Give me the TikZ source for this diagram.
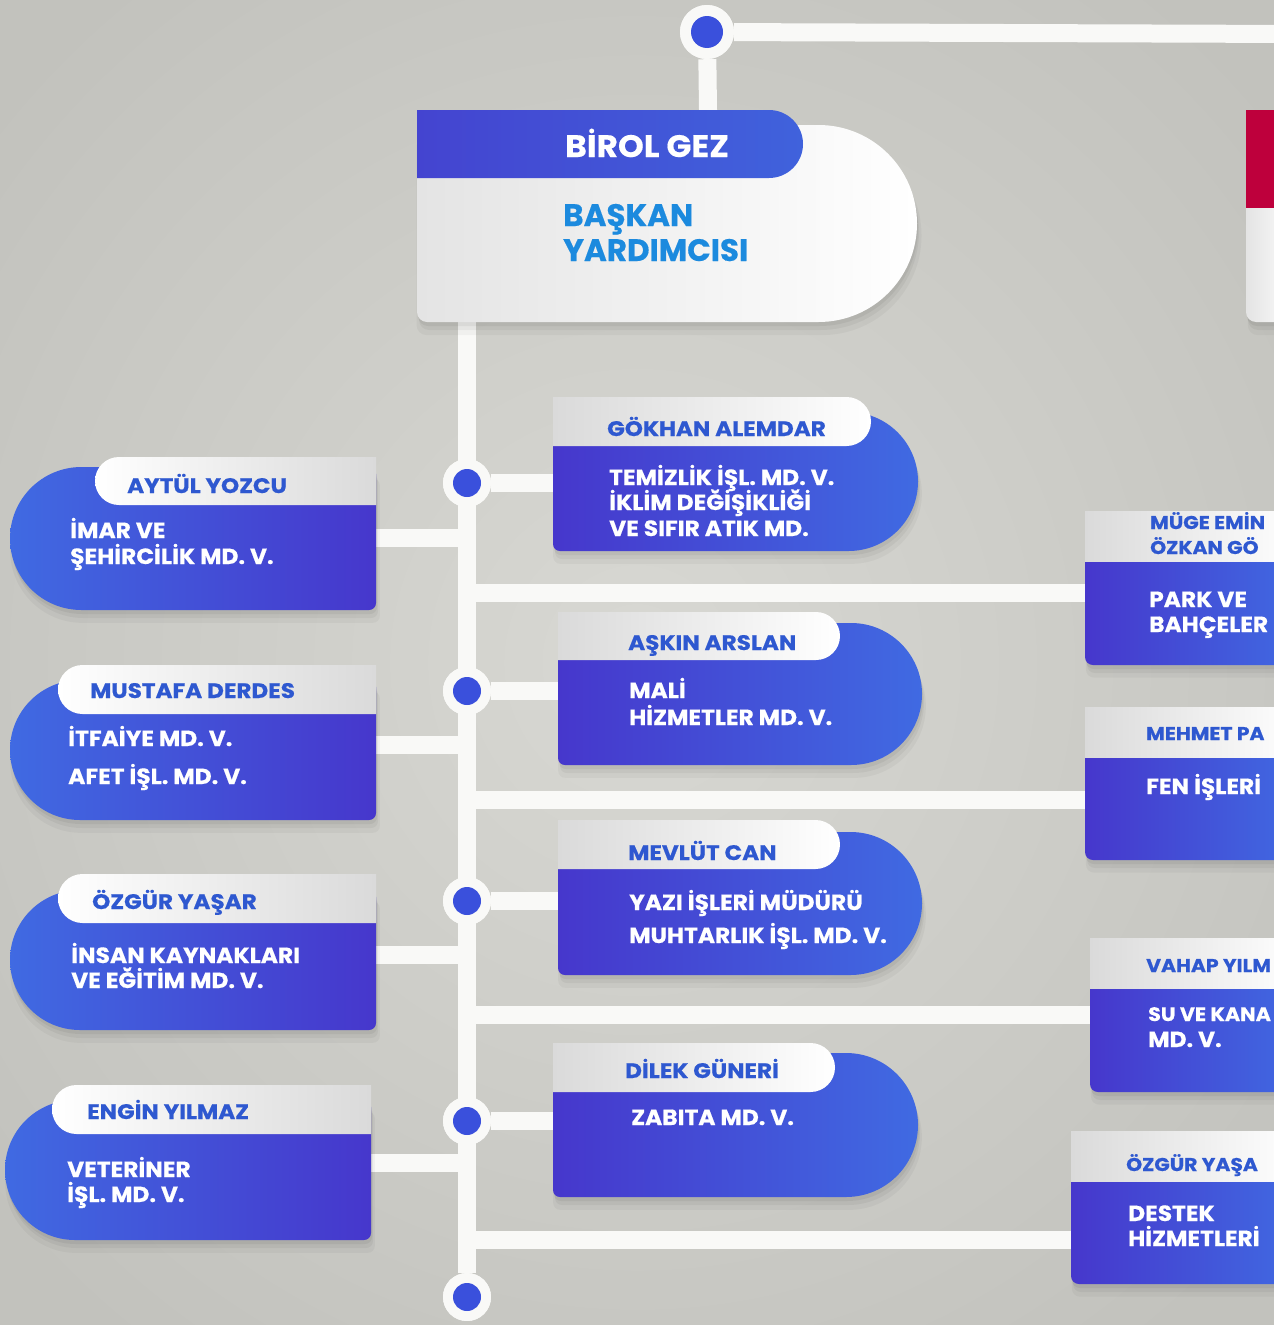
\documentclass[tikz,border=0pt]{standalone}
\usepackage{fontspec}
\setmainfont{Poppins}
\newfontfamily\popname{Poppins}[FakeStretch=1.10, FakeBold=0.6]
\newfontfamily\popbody{Poppins}[FakeStretch=1.06, FakeBold=0.6]
\newfontfamily\popmain{Poppins}[FakeStretch=1.06, FakeBold=0.4]
\newfontfamily\poprole{Poppins}[FakeBold=0.4]
\usetikzlibrary{shadows}
\definecolor{bgin}{RGB}{216,216,211}
\definecolor{bgout}{RGB}{194,194,189}
\definecolor{wire}{RGB}{249,249,247}
\definecolor{blight}{RGB}{64,106,226}
\definecolor{bviolet}{RGB}{70,55,204}
\definecolor{hblue}{RGB}{46,88,208}
\definecolor{sky}{RGB}{28,138,222}
\definecolor{hgray}{RGB}{218,218,218}
\definecolor{mgray}{RGB}{228,228,228}
\definecolor{crimson}{RGB}{190,0,60}
\definecolor{dotblue}{RGB}{58,80,220}
\definecolor{mheadA}{RGB}{68,68,208}
\definecolor{mheadB}{RGB}{64,98,220}
\tikzset{
  wireline/.style={draw=wire, line width=18pt},
  cardshadow/.style={
    general shadow={fill=black, opacity=.035, shadow xshift=2pt, shadow yshift=-12pt, shadow scale=1.01},
    general shadow={fill=black, opacity=.045, shadow xshift=2pt, shadow yshift=-8pt},
    general shadow={fill=black, opacity=.05, shadow xshift=1pt, shadow yshift=-4pt}},
  bodyL/.style={cardshadow, left color=blight, right color=bviolet},
  bodyR/.style={cardshadow, left color=bviolet, right color=blight},
  farbody/.style={cardshadow, left color=bviolet, right color=blight},
  headL/.style={left color=white, right color=hgray},
  headR/.style={left color=hgray, right color=white},
  mainbody/.style={cardshadow, left color=mgray, right color=white},
  nametext/.style={anchor=base west, inner sep=0pt, text=hblue, font=\popname\bfseries\fontsize{21}{21}\selectfont},
  farname/.style={nametext, font=\popname\bfseries\fontsize{18.5}{18.5}\selectfont},
  bodytext/.style={anchor=base west, inner sep=0pt, text=white, font=\popbody\bfseries\fontsize{22}{22}\selectfont},
  hubdot/.style={circle, fill=wire, minimum size=48pt, inner sep=0pt,
    path picture={\fill[dotblue] (path picture bounding box.center) circle[radius=14pt];}},
  tophub/.style={hubdot, minimum size=54pt,
    path picture={\fill[dotblue] (path picture bounding box.center) circle[radius=16pt];}},
}
% left card: body xl xr yt yb
\newcommand{\leftbody}[4]{%
  \path[bodyL] ({#1+(#4-#3)/2},#3) -- ({#2-7},#3) arc[start angle=270,end angle=360,radius=7]
    -- (#2,{#4-7}) arc[start angle=0,end angle=90,radius=7]
    -- ({#1+(#4-#3)/2},#4) arc[start angle=90,end angle=270,radius={(#4-#3)/2}] -- cycle;}
% left head: hx xr ht hb
\newcommand{\lefthead}[4]{%
  \path[headL] ({#1+(#4-#3)/2},#3) -- (#2,#3) -- (#2,#4) -- ({#1+(#4-#3)/2},#4)
    arc[start angle=90,end angle=270,radius={(#4-#3)/2}] -- cycle;}
% right card: body xl xr yt yb
\newcommand{\rightbody}[4]{%
  \path[bodyR] ({#1+7},#3) -- ({#2-(#4-#3)/2},#3) arc[start angle=270,end angle=450,radius={(#4-#3)/2}]
    -- ({#1+7},#4) arc[start angle=90,end angle=180,radius=7]
    -- (#1,{#3+7}) arc[start angle=180,end angle=270,radius=7] -- cycle;}
% right head: xl hxr ht hb
\newcommand{\righthead}[4]{%
  \path[headR] (#1,#3) -- ({#2-(#4-#3)/2},#3) arc[start angle=270,end angle=450,radius={(#4-#3)/2}]
    -- (#1,#4) -- cycle;}
% far card: xl ht hb yb
\newcommand{\farcard}[4]{%
  \path[farbody] (#1,#3) -- (1300,#3) -- (1300,#4) -- ({#1+8},#4) arc[start angle=90,end angle=180,radius=8] -- cycle;
  \path[headR] (#1,#2) rectangle (1300,#3);}
\begin{document}
\begin{tikzpicture}[x=1pt,y=-1pt]
\useasboundingbox (0,0) rectangle (1274,1325);
\clip (0,0) rectangle (1274,1325);
\path[inner color=bgin, outer color=bgout] (-200,-200) rectangle (1474,1525);

% hubs and anchor points
\node[tophub] (c0) at (707,32) {};
\coordinate (topEnd) at (1300,34);
\coordinate (mainTop) at (708,110);
\coordinate (tTop) at (467,322);
\node[hubdot] (c1) at (467,483) {};
\node[hubdot] (c2) at (467,691) {};
\node[hubdot] (c3) at (467,901) {};
\node[hubdot] (c4) at (467,1121) {};
\node[hubdot] (c5) at (467,1297) {};
\coordinate (R1) at (560,483);
\coordinate (R2) at (565,691);
\coordinate (R3) at (565,901);
\coordinate (R4) at (560,1121);
\coordinate (L1) at (370,538);
\coordinate (L2) at (370,745);
\coordinate (L3) at (370,955);
\coordinate (L4) at (365,1163);
\coordinate (F1) at (1090,593);
\coordinate (F2) at (1090,800);
\coordinate (F3) at (1095,1015);
\coordinate (F4) at (1076,1240);

% connectors
\draw[wireline] (c0) -- (topEnd);
\draw[wireline] (c0) -- (mainTop);
\draw[wireline] (tTop) -- (c5);
\foreach \a/\b in {c1/R1,c2/R2,c3/R3,c4/R4}{\draw[wireline] (\a) -- (\b);}
\foreach \p in {L1,L2,L3,L4,F1,F2,F3,F4}{\draw[wireline] (\p) -- (\p -| tTop);}

% main card
\path[mainbody] (427,125) -- (818.5,125) arc[start angle=270,end angle=450,radius=98.5]
  -- (427,322) arc[start angle=90,end angle=180,radius=10]
  -- (417,135) arc[start angle=180,end angle=270,radius=10] -- cycle;
\path[left color=mheadA, right color=mheadB] (417,110) -- (769,110)
  arc[start angle=270,end angle=450,radius=34] -- (417,178) -- cycle;
\node[anchor=base west, inner sep=0pt, text=white, font=\popmain\bfseries\fontsize{31}{31}\selectfont] (mname) at (565,157) {BİROL GEZ};
\node[anchor=base west, inner sep=0pt, text=sky, font=\poprole\bfseries\fontsize{31}{31}\selectfont] (mrole1) at (563,226) {BAŞKAN};
\node[anchor=base west, inner sep=0pt, text=sky, font=\poprole\bfseries\fontsize{31}{31}\selectfont] (mrole2) at (563,261) {YARDIMCISI};

% top-right partial card
\path[mainbody] (1246,125) -- (1300,125) -- (1300,322) -- (1256,322)
  arc[start angle=90,end angle=180,radius=10] -- cycle;
\fill[crimson] (1246,110) rectangle (1300,208);

% left cards
\leftbody{10}{376}{467}{610}\lefthead{95}{376}{457}{505}
\node[nametext] (n1) at (127,493) {AYTÜL YOZCU};
\node[bodytext] (b1a) at (70,538) {İMAR VE};
\node[bodytext] (b1b) at (70,564) {ŞEHİRCİLİK MD. V.};

\leftbody{10}{376}{680}{820}\lefthead{58}{376}{665}{714}
\node[nametext] (n2) at (90,698) {MUSTAFA DERDES};
\node[bodytext] (b2a) at (68,746) {İTFAİYE MD. V.};
\node[bodytext] (b2b) at (68,784) {AFET İŞL. MD. V.};

\leftbody{10}{376}{890}{1030}\lefthead{58}{376}{874}{923}
\node[nametext] (n3) at (92,909) {ÖZGÜR YAŞAR};
\node[bodytext] (b3a) at (71,963) {İNSAN KAYNAKLARI};
\node[bodytext] (b3b) at (71,988) {VE EĞİTİM MD. V.};

\leftbody{5}{371}{1100}{1240}\lefthead{52}{371}{1085}{1134}
\node[nametext] (n4) at (87,1119) {ENGİN YILMAZ};
\node[bodytext] (b4a) at (67,1177) {VETERİNER};
\node[bodytext] (b4b) at (67,1202) {İŞL. MD. V.};

% right cards
\rightbody{553}{918}{412}{551}\righthead{553}{871}{397}{446}
\node[nametext] (n5) at (607,436) {GÖKHAN ALEMDAR};
\node[bodytext] (b5a) at (609,485) {TEMİZLİK İŞL. MD. V.};
\node[bodytext] (b5b) at (609,510) {İKLİM DEĞİŞİKLİĞİ};
\node[bodytext] (b5c) at (609,536) {VE SIFIR ATIK MD.};

\rightbody{558}{922}{623}{765}\righthead{558}{840}{612}{660}
\node[nametext] (n6) at (628,650) {AŞKIN ARSLAN};
\node[bodytext] (b6a) at (629,698) {MALİ};
\node[bodytext] (b6b) at (629,725) {HİZMETLER MD. V.};

\rightbody{558}{922}{832}{975}\righthead{558}{840}{820}{869}
\node[nametext] (n7) at (628,860) {MEVLÜT CAN};
\node[bodytext] (b7a) at (629,910) {YAZI İŞLERİ MÜDÜRÜ};
\node[bodytext] (b7b) at (629,943) {MUHTARLIK İŞL. MD. V.};

\rightbody{553}{918}{1053}{1197}\righthead{553}{835}{1043}{1092}
\node[nametext] (n8) at (625,1078) {DİLEK GÜNERİ};
\node[bodytext] (b8a) at (631,1125) {ZABITA MD. V.};

% far right cards
\farcard{1085}{511}{561}{665}
\node[farname] (n9a) at (1150,529) {MÜGE EMİN};
\node[farname] (n9b) at (1150,554) {ÖZKAN GÖ};
\node[bodytext] (b9a) at (1149,607) {PARK VE};
\node[bodytext] (b9b) at (1149,632) {BAHÇELER};

\farcard{1085}{707}{757}{860}
\node[farname] (n10) at (1146,740) {MEHMET PA};
\node[bodytext] (b10a) at (1146,794) {FEN İŞLERİ};

\farcard{1090}{938}{988}{1092}
\node[farname] (n11) at (1146,972) {VAHAP YILM};
\node[bodytext, font=\popbody\bfseries\fontsize{19.5}{19.5}\selectfont] (b11a) at (1148,1021) {SU VE KANA};
\node[bodytext] (b11b) at (1148,1047) {MD. V.};

\farcard{1071}{1131}{1181}{1284}
\node[farname] (n12) at (1126,1171) {ÖZGÜR YAŞA};
\node[bodytext] (b12a) at (1128,1221) {DESTEK};
\node[bodytext] (b12b) at (1128,1246) {HİZMETLERİ};

% hubs on top
\node[tophub] at (c0) {};
\foreach \h in {c1,c2,c3,c4,c5}{\node[hubdot] at (\h) {};}
\end{tikzpicture}
\end{document}
